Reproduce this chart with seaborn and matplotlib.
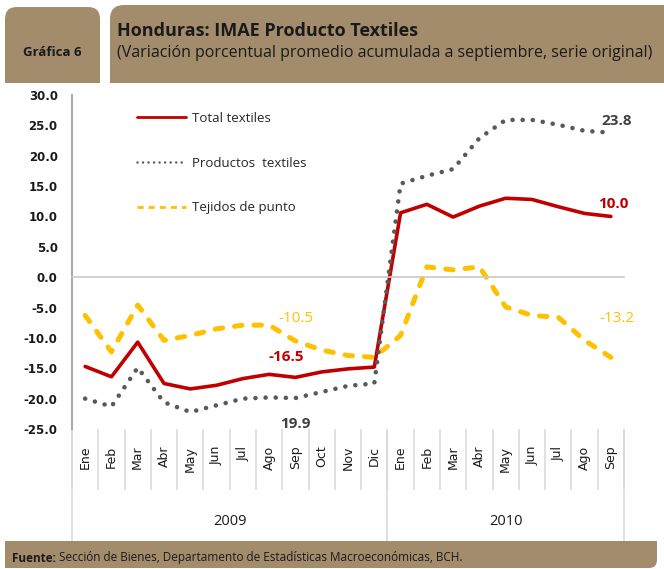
import numpy as np
import pandas as pd
import matplotlib
matplotlib.use("Agg")
import matplotlib.pyplot as plt
import seaborn as sns
from matplotlib.patches import FancyBboxPatch, Rectangle
from matplotlib.lines import Line2D

# ===============================
# Data
# ===============================
months = ["Ene", "Feb", "Mar", "Abr", "May", "Jun", "Jul", "Ago", "Sep", "Oct", "Nov", "Dic",
          "Ene", "Feb", "Mar", "Abr", "May", "Jun", "Jul", "Ago", "Sep"]
years = ["2009", "2010"]
year_counts = [12, 9]

total_textiles = [-14.7, -16.4, -10.7, -17.5, -18.4, -17.8, -16.7, -16.0, -16.5, -15.6, -15.1, -14.8,
                  10.6, 12.0, 9.9, 11.7, 13.0, 12.8, 11.6, 10.5, 10.0]
productos_textiles = [-20.0, -21.3, -14.9, -20.6, -22.2, -21.1, -20.0, -19.8, -19.9, -18.9, -17.9, -17.5,
                      15.4, 16.7, 17.8, 22.9, 25.9, 25.9, 25.1, 24.1, 23.8]
tejidos_punto = [-6.3, -12.3, -4.6, -10.4, -9.6, -8.5, -7.9, -7.9, -10.5, -12.0, -12.9, -13.2,
                 -9.6, 1.7, 1.2, 1.7, -4.9, -6.3, -6.6, -10.4, -13.2]

series_names = ["Total textiles", "Productos  textiles", "Tejidos de punto"]
end_labels = ["10.0", "23.8", "-13.2"]
sep09_labels = ["-16.5", "19.9", "-10.5"]

y_ticks = np.arange(-25, 31, 5)

RED = "#C00000"
GREY = "#595959"
ORANGE = "#FFC000"
TAN = "#A38C6C"
AXIS_GREY = "#A6A6A6"
SEP_GREY = "#D9D9D9"

sns.set_style("white")
plt.rcParams["font.family"] = ["DejaVu Sans"]

W, H = 664, 569
fig = plt.figure(figsize=(W / 100, H / 100), dpi=100)

# background layer in pixel coordinates for header / footer boxes
bg = fig.add_axes([0, 0, 1, 1], zorder=0)
bg.set_xlim(0, W)
bg.set_ylim(H, 0)
bg.axis("off")

def tab(x0, y0, x1, y1, r, square_bottom=True, square_top=False):
    bg.add_patch(FancyBboxPatch((x0 + r, y0 + r), x1 - x0 - 2 * r, y1 - y0 - 2 * r,
                                boxstyle=f"round,pad={r}", fc=TAN, ec="none"))
    if square_bottom:
        bg.add_patch(Rectangle((x0, y1 - r - 1), x1 - x0, r + 1, fc=TAN, ec="none"))
    if square_top:
        bg.add_patch(Rectangle((x0, y0), x1 - x0, r + 1, fc=TAN, ec="none"))

tab(5, 7, 100, 83, 12)
tab(110, 5, 664 + 14, 83, 14)
tab(5, 541, 657, 568, 8, square_bottom=False, square_top=True)
bg.add_patch(Rectangle((5, 541), 12, 27, fc=TAN, ec="none"))

bg.text(52, 52, "Gráfica 6", fontsize=9.5, fontweight="bold", family="Open Sans",
        ha="center", va="center", color="#1a1a1a")
bg.text(117, 31, "Honduras: IMAE Producto Textiles", fontsize=13, fontweight="bold",
        family="Open Sans", ha="left", va="center", color="#1a1a1a")
bg.text(117, 53, "(Variación porcentual promedio acumulada a septiembre, serie original)",
        fontsize=11.5, family="Open Sans", ha="left", va="center", color="#1a1a1a")
t = bg.text(12, 558, "Fuente:", fontsize=8.5, fontweight="bold", family="Open Sans",
            ha="left", va="center", color="#1a1a1a")
bg.annotate(" Sección de Bienes, Departamento de Estadísticas Macroeconómicas, BCH.",
            xy=(1, 0.5), xycoords=t, fontsize=8.5, family="Open Sans",
            ha="left", va="center", color="#1a1a1a")

# ===============================
# Main chart
# ===============================
x0, x1, ytop, ybot = 72, 624, 95, 429
ax = fig.add_axes([x0 / W, 1 - ybot / H, (x1 - x0) / W, (ybot - ytop) / H], zorder=2)
ax.patch.set_alpha(0)

idx = np.arange(len(months))
df = pd.DataFrame({"idx": idx, "total": total_textiles,
                   "productos": productos_textiles, "tejidos": tejidos_punto})

sns.lineplot(data=df, x="idx", y="tejidos", ax=ax, color=ORANGE, linewidth=3.6)
ax.lines[-1].set_dashes((1.5, 2.4))
ax.lines[-1].set_dash_capstyle("round")
sns.lineplot(data=df, x="idx", y="total", ax=ax, color=RED, linewidth=2.6)
sns.lineplot(data=df, x="idx", y="productos", ax=ax, color=GREY, linewidth=3.3)
ax.lines[-1].set_dashes((0.01, 2.2))
ax.lines[-1].set_dash_capstyle("round")

ax.set_xlim(-0.5, len(months) - 0.5)
ax.set_ylim(y_ticks[0], y_ticks[-1])
ax.set_xlabel("")
ax.set_ylabel("")

# y axis
ax.set_yticks(y_ticks)
ax.set_yticklabels([f"{v:.1f}" for v in y_ticks], fontsize=8.5, fontweight="bold", color="#1a1a1a")
ax.tick_params(axis="y", direction="out", length=4.3, width=1, color=AXIS_GREY, pad=6)
ax.spines["left"].set_color(AXIS_GREY)
ax.spines["left"].set_linewidth(1.4)
for s in ["top", "right"]:
    ax.spines[s].set_visible(False)

# category axis drawn at zero
bounds = np.arange(-0.5, len(months), 1.0)
ax.spines["bottom"].set_position(("data", 0))
ax.spines["bottom"].set_color("#C8C8C8")
ax.spines["bottom"].set_linewidth(1.2)
ax.set_xticks([])
ax.set_xticks(bounds, minor=True)
ax.tick_params(axis="x", which="minor", direction="out", length=4, width=1, color="#C8C8C8")

# month labels below the plot area
sec = ax.secondary_xaxis(0)
sec.set_xticks(idx, months, fontsize=9, rotation=90, color="#1a1a1a")
sec.set_xticks(bounds, minor=True)
sec.tick_params(axis="x", which="major", length=0, pad=12)
sec.tick_params(axis="x", which="minor", length=44, width=1.1, color=SEP_GREY)
for s in sec.spines.values():
    s.set_visible(False)

# year labels
year_edges = np.concatenate([[0], np.cumsum(year_counts)]) - 0.5
year_mid = (year_edges[:-1] + year_edges[1:]) / 2
sec2 = ax.secondary_xaxis(0)
sec2.set_xticks(year_mid, years, fontsize=10.5, family="Open Sans", color="#1a1a1a")
sec2.set_xticks(year_edges, minor=True)
sec2.tick_params(axis="x", which="major", length=0, pad=61)
sec2.tick_params(axis="x", which="minor", length=80.5, width=1.1, color=SEP_GREY)
for s in sec2.spines.values():
    s.set_visible(False)

# value labels
last = len(months) - 1
lab_kw = dict(textcoords="offset pixels", ha="center", va="center", fontsize=11, family="Open Sans")
ax.annotate(end_labels[0], (last, total_textiles[last]), xytext=(2, 12), color=RED, fontweight="bold", **lab_kw)
ax.annotate(end_labels[1], (last, productos_textiles[last]), xytext=(6, 12), color="#404040", fontweight="bold", **lab_kw)
ax.annotate(end_labels[2], (last, tejidos_punto[last]), xytext=(6, 39), color=ORANGE, **lab_kw)
ax.annotate(sep09_labels[0], (8, total_textiles[8]), xytext=(-9, 20), color=RED, fontweight="bold", **lab_kw)
ax.annotate(sep09_labels[1], (8, productos_textiles[8]), xytext=(0, -26), color="#404040", fontweight="bold", **lab_kw)
ax.annotate(sep09_labels[2], (8, tejidos_punto[8]), xytext=(0, 22), color=ORANGE, **lab_kw)

# legend
handles = [
    Line2D([], [], color=RED, lw=2.0),
    Line2D([], [], color=GREY, lw=1.8, dashes=(0.01, 2.2), dash_capstyle="round"),
    Line2D([], [], color=ORANGE, lw=2.0, dashes=(2.2, 1.8)),
]
ax.legend(handles, series_names, loc="upper left", bbox_to_anchor=(137 / W, 1 - 112 / H),
          bbox_transform=fig.transFigure, frameon=False, borderpad=0, borderaxespad=0,
          handlelength=3.7, handletextpad=0.45, labelspacing=2.4,
          prop={"family": "Open Sans", "size": 9.5})

fig.savefig("out.png", dpi=100)
